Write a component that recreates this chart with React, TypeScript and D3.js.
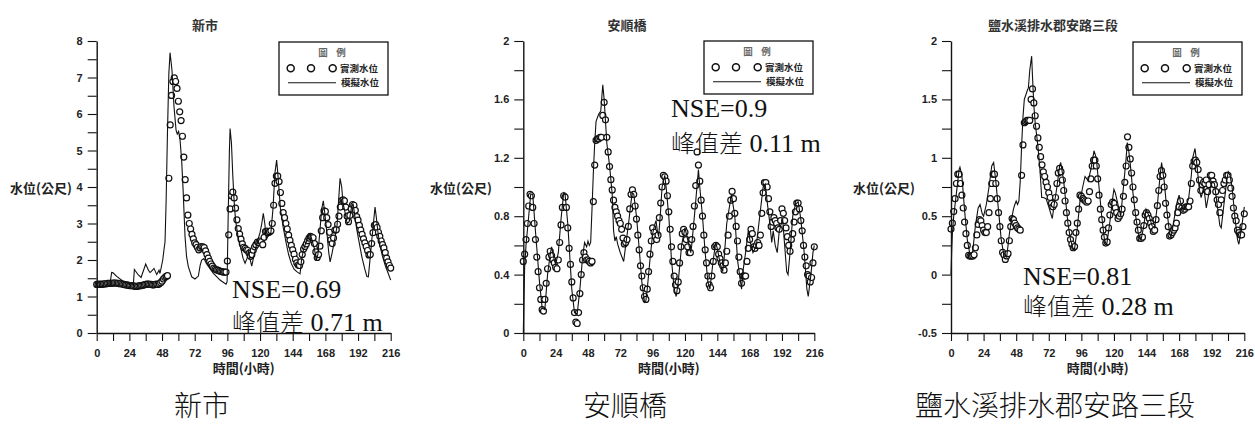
import React, { useRef, useEffect } from 'react';
import * as d3 from 'd3';

// observed water level, one value per hour, t = 0..216
const obsXinshi = [
  1.33, 1.33, 1.34, 1.33, 1.34, 1.34, 1.35, 1.35, 1.36, 1.36, 1.36,
  1.36, 1.37, 1.37, 1.37, 1.36, 1.36, 1.35, 1.35, 1.34, 1.33, 1.32, 1.32,
  1.31, 1.30, 1.30, 1.30, 1.29, 1.28, 1.28, 1.28, 1.29, 1.30, 1.30, 1.31, 1.32,
  1.33, 1.34, 1.34, 1.33, 1.33, 1.32, 1.32, 1.33, 1.34, 1.33, 1.35,
  1.38, 1.42, 1.48, 1.52, 1.55, 1.57,
  4.24, 5.70, 6.51, 6.89, 6.99, 6.89, 6.70, 6.35, 6.06, 5.82,
  5.39, 4.82, 4.20, 3.70, 3.23, 3.00, 2.85, 2.70, 2.58, 2.47,
  2.42, 2.35, 2.28, 2.33, 2.37, 2.36, 2.34, 2.25, 2.15, 2.05,
  1.96, 1.89, 1.83, 1.78, 1.75, 1.73, 1.72, 1.70, 1.69, 1.68,
  1.67, 1.67, 1.67, 1.97, 2.69, 3.40, 3.76, 3.86, 3.70, 3.42,
  3.10, 2.86, 2.71, 2.57, 2.44, 2.35, 2.32, 2.28, 2.26, 2.19,
  2.10, 2.15, 2.27, 2.36, 2.42, 2.49, 2.48, 2.52, 2.50, 2.42,
  2.62, 2.78, 2.79, 2.75, 2.77, 2.80, 3.00, 3.50, 4.10, 4.30,
  4.30, 4.15, 3.85, 3.55, 3.30, 3.16, 3.00, 2.85, 2.68, 2.54,
  2.40, 2.28, 2.16, 2.02, 1.92, 1.86, 1.85, 1.95, 2.15, 2.30,
  2.37, 2.44, 2.53, 2.60, 2.65, 2.63, 2.61, 2.45, 2.22, 2.07,
  2.15, 2.38, 2.80, 3.16, 3.35, 3.33, 3.16, 2.97, 2.76, 2.55,
  2.45, 2.60, 2.82, 2.83, 2.98, 3.20, 3.45, 3.63, 3.65, 3.62,
  3.45, 3.20, 3.05, 3.22, 3.40, 3.52, 3.50, 3.36, 3.19, 3.09,
  2.95, 2.82, 2.70, 2.58, 2.47, 2.37, 2.26, 2.14, 2.15, 2.45,
  2.75, 2.95, 2.97, 2.89, 2.76, 2.65, 2.52, 2.42, 2.33, 2.20,
  2.05, 1.95, 1.85, 1.78,
];

const obsAnshun = [
  0.49, 0.54, 0.64, 0.75, 0.87, 0.95, 0.94, 0.86, 0.75, 0.64,
  0.52, 0.42, 0.31, 0.23, 0.16, 0.15, 0.23, 0.34, 0.44, 0.52,
  0.56, 0.53, 0.50, 0.48, 0.45, 0.44, 0.50, 0.62, 0.74, 0.86,
  0.94, 0.93, 0.86, 0.72, 0.58, 0.47, 0.35, 0.24, 0.14, 0.075,
  0.065, 0.14, 0.27, 0.40, 0.50, 0.55, 0.52, 0.50, 0.50, 0.49,
  0.48, 0.49, 0.90, 1.15, 1.32, 1.33, 1.33, 1.34, 1.34, 1.49,
  1.58, 1.46, 1.34, 1.24, 1.14, 1.05, 0.98, 0.91, 0.86, 0.83,
  0.80, 0.77, 0.75, 0.71, 0.65, 0.61, 0.62, 0.64, 0.73, 0.85,
  0.95, 0.98, 0.95, 0.87, 0.78, 0.67, 0.57, 0.46, 0.39, 0.31,
  0.25, 0.23, 0.30, 0.42, 0.54, 0.63, 0.72, 0.69, 0.66, 0.64,
  0.67, 0.79, 0.89, 1.00, 1.08, 1.07, 1.04, 0.94, 0.83, 0.71,
  0.59, 0.49, 0.39, 0.33, 0.29, 0.35, 0.48, 0.59, 0.68, 0.71,
  0.69, 0.64, 0.59, 0.55, 0.55, 0.64, 0.73, 0.87, 1.01, 1.24,
  1.15, 1.04, 0.91, 0.80, 0.67, 0.57, 0.48, 0.39, 0.33, 0.31,
  0.39, 0.49, 0.59, 0.60, 0.59, 0.54, 0.51, 0.48, 0.46, 0.43,
  0.48, 0.56, 0.67, 0.80, 0.91, 0.97, 0.92, 0.82, 0.73, 0.63,
  0.52, 0.42, 0.34, 0.39, 0.39, 0.39, 0.49, 0.58, 0.64, 0.71,
  0.68, 0.59, 0.58, 0.60, 0.62, 0.60, 0.67, 0.82, 0.96, 1.03,
  1.03, 1.00, 0.92, 0.83, 0.73, 0.76, 0.79, 0.77, 0.75, 0.72,
  0.71, 0.77, 0.85, 0.82, 0.77, 0.72, 0.66, 0.60, 0.56, 0.64,
  0.68, 0.76, 0.83, 0.89, 0.89, 0.85, 0.77, 0.70, 0.60, 0.52,
  0.46, 0.40, 0.39, 0.35, 0.38, 0.48, 0.59,
];

const obsYanshui = [
  0.39, 0.44, 0.54, 0.65, 0.78, 0.86, 0.86, 0.78, 0.68, 0.57,
  0.45, 0.35, 0.25, 0.165, 0.157, 0.157, 0.16, 0.17, 0.23, 0.34,
  0.43, 0.47, 0.46, 0.42, 0.38, 0.36, 0.36, 0.41, 0.53, 0.65,
  0.78, 0.86, 0.86, 0.78, 0.65, 0.53, 0.41, 0.29, 0.19, 0.17,
  0.13, 0.16, 0.18, 0.29, 0.41, 0.48, 0.47, 0.44, 0.42, 0.40,
  0.39, 0.38, 0.85, 1.11, 1.30, 1.31, 1.32, 1.32, 1.32, 1.50,
  1.59, 1.47, 1.36, 1.27, 1.17, 1.09, 1.01, 0.94, 0.88, 0.84,
  0.79, 0.75, 0.70, 0.66, 0.61, 0.58, 0.60, 0.66, 0.78, 0.87,
  0.91, 0.88, 0.81, 0.72, 0.63, 0.53, 0.44, 0.36, 0.30, 0.26,
  0.23, 0.24, 0.36, 0.44, 0.56, 0.68, 0.67, 0.65, 0.64, 0.63,
  0.62, 0.63, 0.71, 0.82, 0.93, 0.98, 0.98, 0.93, 0.82, 0.68,
  0.56, 0.47, 0.38, 0.32, 0.27, 0.28, 0.40, 0.51, 0.60, 0.62,
  0.61, 0.57, 0.53, 0.48, 0.50, 0.52, 0.56, 0.67, 0.79, 0.93,
  1.18, 1.09, 0.99, 0.87, 0.75, 0.64, 0.53, 0.45, 0.38, 0.31,
  0.31, 0.32, 0.42, 0.51, 0.53, 0.51, 0.48, 0.44, 0.41, 0.37,
  0.38, 0.47, 0.59, 0.72, 0.84, 0.89, 0.85, 0.75, 0.61, 0.51,
  0.41, 0.33, 0.34, 0.36, 0.38, 0.40, 0.44, 0.53, 0.58, 0.63,
  0.57, 0.55, 0.56, 0.58, 0.58, 0.58, 0.63, 0.78, 0.93, 0.97,
  0.98, 0.96, 0.90, 0.81, 0.72, 0.77, 0.79, 0.78, 0.81, 0.71,
  0.77, 0.85, 0.85, 0.80, 0.77, 0.71, 0.64, 0.60, 0.53, 0.64,
  0.72, 0.78, 0.81, 0.85, 0.85, 0.81, 0.74, 0.67, 0.57, 0.50,
  0.46, 0.38, 0.36, 0.34, 0.34, 0.41, 0.52,
];

// simulated water level, [hour, level]
const simXinshi = [
  [0, 1.27], [5, 1.26], [9.5, 1.28], [11, 1.66], [12, 1.65], [14.7, 1.55], [19.6, 1.41], [24, 1.36],
  [26.9, 1.33], [27.7, 1.74], [30.6, 1.59], [32.6, 1.52], [36, 1.89], [38, 1.72], [39.2, 1.66], [40, 1.68],
  [42.1, 1.77], [44.1, 1.6], [45.8, 1.72], [46.5, 1.63], [48.5, 2.0], [49.5, 2.3], [50.2, 2.5], [51, 3.6],
  [52, 5.5], [53, 7.1], [53.9, 7.68], [55.3, 7.2], [56.8, 6.2], [58.3, 5.56], [59.2, 5.45], [60.2, 5.52],
  [61.2, 5.3], [62.4, 4.74], [63.5, 3.9], [64.9, 2.64], [66, 2.1], [67.3, 1.82], [69.8, 1.54], [72.2, 1.48],
  [74.7, 1.56], [76, 1.85], [77.1, 2.0], [78.8, 2.04], [80.7, 1.9], [85.6, 1.64], [90.6, 1.45], [95, 1.34],
  [95.8, 1.4], [96.5, 3.0], [97.5, 5.0], [98, 5.6], [99, 5.2], [100, 4.3], [101, 3.6], [102, 3.1],
  [104, 2.6], [106, 2.3], [107.5, 2.05], [109, 1.91], [110.5, 2.05], [111.5, 2.3], [112.5, 2.05], [113.9, 1.83],
  [116, 2.2], [118, 2.5], [120, 2.75], [121.3, 3.0], [122.4, 3.28], [123.5, 3.0], [124.5, 2.6], [126, 2.65],
  [128, 2.75], [129.5, 3.4], [131, 4.4], [132.2, 4.74], [133, 4.4], [134, 3.9], [135, 3.4], [137, 2.9],
  [139, 2.5], [141, 2.15], [143, 1.9], [145, 1.75], [147, 1.68], [149.4, 1.62], [150.5, 2.0], [152, 2.3],
  [154, 2.5], [156, 2.72], [157, 2.7], [158.5, 2.5], [160, 2.3], [161.3, 1.98], [162.5, 2.15], [164, 2.8],
  [165.3, 3.4], [166.5, 3.62], [167.5, 3.3], [169, 2.8], [170.5, 2.2], [171.5, 1.95], [173, 2.2], [175, 2.6],
  [176.5, 2.9], [177.5, 3.5], [178.8, 4.24], [180, 4.0], [181, 3.55], [182.5, 3.3], [184, 3.0], [185.5, 3.05],
  [187, 3.4], [188.3, 3.55], [189.5, 3.25], [191, 2.85], [193, 2.45], [195, 2.05], [197, 1.75], [198.5, 1.55],
  [199.6, 1.54], [200.5, 1.9], [202, 2.5], [203.3, 3.0], [204.5, 3.45], [205.5, 3.15], [206.5, 2.8], [208, 2.4],
  [210, 2.1], [212, 1.85], [214, 1.65], [216, 1.45],
];

const simAnshun = [
  [0, 0], [0.5, 0.25], [1, 0.45], [2, 0.6], [4, 0.8], [5.5, 0.95], [7, 0.95], [9, 0.7], [12, 0.35],
  [14, 0.17], [16, 0.16], [18, 0.4], [20, 0.54], [21, 0.59], [23, 0.5], [24, 0.47], [26, 0.55], [28, 0.78],
  [30, 0.96], [31, 0.95], [33, 0.75], [36, 0.3], [38, 0.14], [40, 0.13], [42, 0.3], [44, 0.52], [45.5, 0.62],
  [47, 0.59], [48, 0.63], [49, 0.6], [50, 0.62], [51, 0.85], [52, 1.1], [53, 1.3], [54, 1.45], [56, 1.5],
  [57.5, 1.52], [59, 1.7], [60, 1.6], [61, 1.45], [62, 1.3], [64, 1.15], [66, 0.95], [67, 0.7], [68, 0.63],
  [69, 0.66], [70, 0.61], [72, 0.55], [74.5, 0.49], [76, 0.6], [78, 0.74], [80, 0.9], [81, 0.96], [82, 0.95],
  [84, 0.8], [86, 0.58], [88, 0.35], [90, 0.21], [91, 0.22], [92, 0.3], [94, 0.5], [96, 0.68], [97.5, 0.74],
  [98.5, 0.77], [99.5, 0.7], [100.5, 0.66], [102, 0.85], [103, 1.0], [105, 1.08], [106, 1.0], [108, 0.8],
  [110, 0.5], [112, 0.3], [113.5, 0.25], [115, 0.35], [117.5, 0.6], [120, 0.72], [121, 0.68], [123, 0.6],
  [124.3, 0.55], [125, 0.6], [127.5, 0.85], [130, 1.12], [131, 1.0], [133, 0.8], [135, 0.55], [137, 0.35],
  [138.5, 0.3], [141, 0.5], [142.8, 0.62], [144, 0.58], [146, 0.48], [148, 0.42], [149, 0.5], [151, 0.75],
  [154.5, 0.95], [157, 0.8], [159, 0.5], [162, 0.3], [163, 0.42], [165, 0.55], [167, 0.7], [168.5, 0.62],
  [170.5, 0.55], [173, 0.6], [175.5, 0.8], [178, 1.0], [179.5, 1.02], [181, 0.9], [183, 0.75], [184.4, 0.62],
  [185.5, 0.7], [187, 0.6], [188.5, 0.55], [190, 0.7], [192.5, 0.78], [194, 0.6], [195.5, 0.42], [196.5, 0.4],
  [198, 0.55], [200, 0.8], [202, 0.88], [204, 0.9], [206, 0.78], [208.5, 0.55], [210.5, 0.3], [211.5, 0.25],
  [213.5, 0.4], [215, 0.55], [216, 0.6],
];

const simYanshui = [
  [0, 0], [0.5, 0.2], [1, 0.35], [2, 0.5], [4, 0.7], [6, 0.9], [6.6, 0.92], [8, 0.85], [10, 0.55], [12, 0.3],
  [14, 0.17], [16, 0.2], [18, 0.42], [20, 0.57], [21.4, 0.6], [23, 0.52], [24, 0.5], [26, 0.6], [28, 0.75],
  [30, 0.93], [31.4, 0.96], [33, 0.8], [35, 0.55], [37, 0.3], [39, 0.16], [41, 0.15], [43, 0.35], [45, 0.5],
  [46, 0.56], [47, 0.6], [48, 0.63], [49, 0.6], [50, 0.63], [51, 0.8], [52, 1.1], [53, 1.35], [54, 1.5],
  [56, 1.57], [57, 1.6], [58, 1.75], [59.4, 1.87], [60, 1.7], [61, 1.45], [62, 1.3], [64, 1.1], [65.5, 0.9],
  [66.8, 0.66], [68, 0.66], [70, 0.65], [72, 0.58], [74.6, 0.48], [76, 0.6], [78, 0.75], [80, 0.93],
  [80.8, 0.96], [83, 0.8], [86, 0.45], [88, 0.3], [90, 0.22], [91, 0.22], [93, 0.4], [95, 0.63], [97, 0.75],
  [98.7, 0.84], [100, 0.82], [101, 0.8], [103, 0.9], [105.3, 1.06], [107, 1.0], [109, 0.75], [111, 0.5],
  [113, 0.3], [114.6, 0.25], [117, 0.45], [119, 0.65], [120, 0.73], [121, 0.7], [123, 0.6], [125, 0.5],
  [127, 0.75], [129, 1.0], [129.8, 1.13], [131, 1.05], [132, 0.95], [134, 0.7], [136, 0.5], [138, 0.35],
  [140, 0.3], [142, 0.42], [143.6, 0.56], [146, 0.5], [148, 0.42], [150, 0.4], [152, 0.6], [154, 0.85],
  [155.1, 0.96], [157, 0.8], [159, 0.55], [161, 0.35], [162, 0.32], [164, 0.45], [166, 0.6], [168, 0.68],
  [169, 0.62], [171, 0.55], [173, 0.58], [175, 0.65], [177, 0.85], [178, 1.0], [179.7, 1.08], [181, 0.95],
  [183, 0.72], [184.2, 0.66], [186.2, 0.75], [188, 0.57], [190, 0.7], [192, 0.8], [194, 0.78], [196, 0.6],
  [198, 0.42], [199, 0.4], [201, 0.6], [203, 0.8], [204.2, 0.88], [205.5, 0.85], [207, 0.75], [209, 0.5],
  [211, 0.3], [212, 0.26], [214, 0.4], [216, 0.58],
];

const hourTicks = [0, 12, 24, 36, 48, 60, 72, 84, 96, 108, 120, 132, 144, 156, 168, 180, 192, 204, 216];
const hourLabels = [0, 24, 48, 72, 96, 120, 144, 168, 192, 216];

const yTicksXinshi = [0, 0.5, 1, 1.5, 2, 2.5, 3, 3.5, 4, 4.5, 5, 5.5, 6, 6.5, 7, 7.5, 8];
const yLabelsXinshi = [0, 1, 2, 3, 4, 5, 6, 7, 8];
const yTicksAnshun = [0, 0.2, 0.4, 0.6, 0.8, 1, 1.2, 1.4, 1.6, 1.8, 2];
const yLabelsAnshun = [0, 0.4, 0.8, 1.2, 1.6, 2];
const yTicksYanshui = [-0.5, -0.25, 0, 0.25, 0.5, 0.75, 1, 1.25, 1.5, 1.75, 2];
const yLabelsYanshui = [-0.5, 0, 0.5, 1, 1.5, 2];

const panels = [
  {
    name: '新市', obs: obsXinshi, sim: simXinshi, yDomain: [0, 8], yTicks: yTicksXinshi, yLabels: yLabelsXinshi,
    left: 96.7, right: 390.7, nse: 'NSE=0.69', peak: '0.71 m', statX: 232, nseY: 298, peakY: 331,
    legendX: 279, legendY: 42, yTitleX: 10, titleX: 205, captionX: 202,
  },
  {
    name: '安順橋', obs: obsAnshun, sim: simAnshun, yDomain: [0, 2], yTicks: yTicksAnshun, yLabels: yLabelsAnshun,
    left: 523.3, right: 814.3, nse: 'NSE=0.9', peak: '0.11 m', statX: 671, nseY: 117, peakY: 152,
    legendX: 704, legendY: 41, yTitleX: 430, titleX: 627, captionX: 625,
  },
  {
    name: '鹽水溪排水郡安路三段', obs: obsYanshui, sim: simYanshui, yDomain: [-0.5, 2], yTicks: yTicksYanshui,
    yLabels: yLabelsYanshui, left: 951, right: 1244.3, nse: 'NSE=0.81', peak: '0.28 m', statX: 1023,
    nseY: 285, peakY: 315, legendX: 1133, legendY: 42, yTitleX: 853, titleX: 1053, captionX: 1055,
  },
];

const top = 41;
const bottom = 333;
const cjk = "'Noto Sans CJK TC', 'Noto Sans CJK SC', sans-serif";
const latin = "'Liberation Sans', Arial, sans-serif";
const serif = "'Liberation Serif', 'Times New Roman', serif";

const App = () => {
  const chartRef = useRef<SVGSVGElement>(null);

  useEffect(() => {
    const svg = d3.select(chartRef.current);
    svg.selectAll('*').remove();

    panels.forEach(p => {
      const x = d3.scaleLinear().domain([0, 216]).range([p.left, p.right]);
      const y = d3.scaleLinear().domain(p.yDomain).range([bottom, top]);
      const g = svg.append('g');

      // observed circles
      g.append('g')
        .selectAll('circle')
        .data(p.obs)
        .join('circle')
        .attr('cx', (d, i) => x(i))
        .attr('cy', d => y(d))
        .attr('r', 3)
        .attr('fill', 'white')
        .attr('stroke', '#111')
        .attr('stroke-width', 1.2);

      // simulated line
      const line = d3.line<number[]>().x(d => x(d[0])).y(d => y(d[1]));
      g.append('path')
        .attr('d', line(p.sim as number[][]))
        .attr('fill', 'none')
        .attr('stroke', '#111')
        .attr('stroke-width', 1.1);

      // axes
      const yAxis = g.append('g')
        .attr('transform', `translate(${p.left},0)`)
        .call(d3.axisLeft(y).tickValues(p.yTicks).tickSize(9).tickPadding(5).tickSizeOuter(0)
          .tickFormat(d => (p.yLabels.includes(+d) ? String(d) : '')));
      const xAxis = g.append('g')
        .attr('transform', `translate(0,${bottom})`)
        .call(d3.axisBottom(x).tickValues(hourTicks).tickSize(8).tickPadding(8).tickSizeOuter(0)
          .tickFormat(d => (hourLabels.includes(+d) ? String(d) : '')));
      [yAxis, xAxis].forEach(a => {
        a.select('.domain').attr('stroke', '#111').attr('stroke-width', 1.4);
        a.selectAll('.tick line').attr('stroke', '#111').attr('stroke-width', 1.1);
        a.selectAll('.tick text')
          .attr('font-family', latin)
          .attr('font-size', 11)
          .attr('font-weight', 'bold')
          .attr('fill', '#222');
      });

      // titles
      g.append('text')
        .attr('x', p.titleX).attr('y', 30)
        .attr('text-anchor', 'middle')
        .attr('font-family', cjk).attr('font-size', 13).attr('font-weight', 'bold').attr('fill', '#333')
        .text(p.name);
      g.append('text')
        .attr('x', (p.left + p.right) / 2).attr('y', 373)
        .attr('text-anchor', 'middle')
        .attr('font-family', cjk).attr('font-size', 13).attr('font-weight', 'bold').attr('fill', '#222')
        .text('時間(小時)');
      g.append('text')
        .attr('x', p.yTitleX).attr('y', 193)
        .attr('font-family', cjk).attr('font-size', 13).attr('font-weight', 'bold').attr('fill', '#222')
        .text('水位(公尺)');

      // NSE / peak difference
      g.append('text')
        .attr('x', p.statX).attr('y', p.nseY)
        .attr('font-family', serif).attr('font-size', 26).attr('fill', '#111')
        .text(p.nse);
      const pk = g.append('text')
        .attr('x', p.statX).attr('y', p.peakY)
        .attr('font-size', 26).attr('fill', '#111');
      pk.append('tspan').attr('font-family', cjk).attr('font-weight', 300).attr('font-size', 24).text('峰值差');
      pk.append('tspan').attr('font-family', serif).text(' ' + p.peak);

      // legend
      const lg = g.append('g').attr('transform', `translate(${p.legendX},${p.legendY})`);
      lg.append('rect')
        .attr('width', 109).attr('height', 53)
        .attr('fill', 'white').attr('stroke', '#111').attr('stroke-width', 1.3);
      [['圖', 44], ['例', 62]].forEach(([t, lx]) => {
        lg.append('text')
          .attr('x', lx).attr('y', 13.5).attr('text-anchor', 'middle')
          .attr('font-family', cjk).attr('font-size', 9.5).attr('font-weight', 'bold').attr('fill', '#666')
          .text(t as string);
      });
      [11.7, 32, 53.7].forEach(cx => {
        lg.append('circle')
          .attr('cx', cx).attr('cy', 26.3).attr('r', 3.5)
          .attr('fill', 'white').attr('stroke', '#111').attr('stroke-width', 1.5);
      });
      lg.append('line')
        .attr('x1', 9).attr('x2', 57).attr('y1', 40.7).attr('y2', 40.7)
        .attr('stroke', '#111').attr('stroke-width', 1.1);
      lg.append('text')
        .attr('x', 61).attr('y', 29.8)
        .attr('font-family', cjk).attr('font-size', 9.5).attr('font-weight', 'bold').attr('fill', '#222')
        .text('實測水位');
      lg.append('text')
        .attr('x', 62).attr('y', 44.3)
        .attr('font-family', cjk).attr('font-size', 9.5).attr('font-weight', 'bold').attr('fill', '#222')
        .text('模擬水位');

      // caption under the panel
      g.append('text')
        .attr('x', p.captionX).attr('y', 416)
        .attr('text-anchor', 'middle')
        .attr('font-family', cjk).attr('font-size', 28).attr('font-weight', 300).attr('fill', '#111')
        .text(p.name);
    });
  }, []);

  return (
    <svg
      ref={chartRef}
      width={1255}
      height={426}
      style={{ position: 'absolute', left: 0, top: 0, background: 'white' }}
    ></svg>
  );
};

export default App;
